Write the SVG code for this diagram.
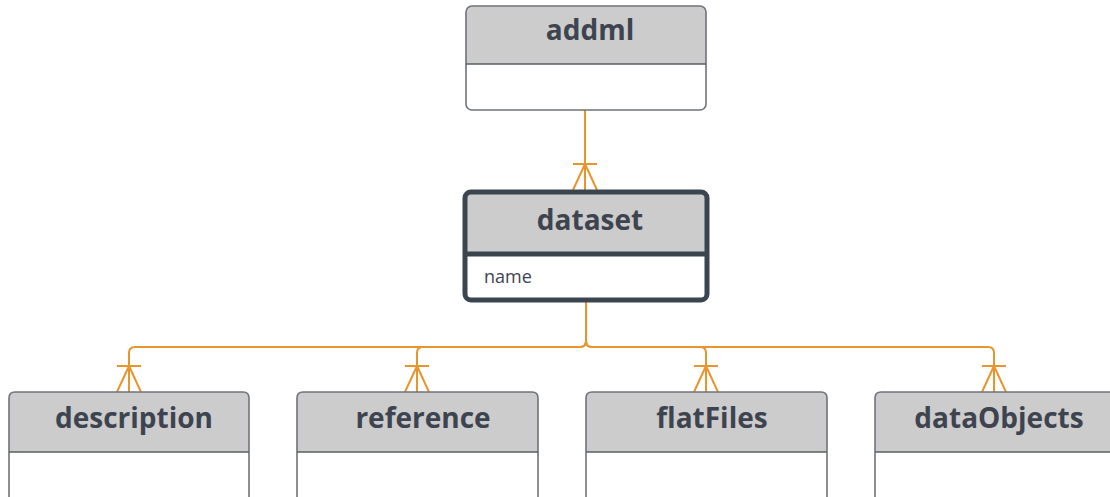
<svg xmlns="http://www.w3.org/2000/svg" width="1110" height="497" viewBox="0 0 1110 497">
<style>
.hdr{fill:#cccccc;}
.body{fill:#ffffff;}
.frame{fill:none;stroke:#6f737a;stroke-width:1.6;}
.div{stroke:#5a5f66;stroke-width:1.6;}
.title{font-family:"Open Sans","Noto Sans",sans-serif;font-weight:bold;font-size:28px;fill:#3d4450;text-anchor:middle;}
.attr{font-family:"Open Sans","Noto Sans",sans-serif;font-size:18px;fill:#3d4450;}
.conn{fill:none;stroke:#e8952e;stroke-width:2;}
</style>
<rect width="1110" height="497" fill="#ffffff"/>
<g id="connectors">
<path class="conn" d="M585,110 V190"/>
<path class="conn" d="M573,164 H597 M585,164 L573,190 M585,164 L597,190"/>
<path class="conn" d="M586,302 V341 Q586,347 580,347 H135 Q129,347 129,353 V392"/>
<path class="conn" d="M586,302 V341 Q586,347 580,347 H423 Q417,347 417,353 V392"/>
<path class="conn" d="M586,302 V341 Q586,347 592,347 H700 Q706,347 706,353 V392"/>
<path class="conn" d="M586,302 V341 Q586,347 592,347 H988 Q994,347 994,353 V392"/>
<path class="conn" d="M117,366 H141 M129,366 L117,392 M129,366 L141,392"/>
<path class="conn" d="M405,366 H429 M417,366 L405,392 M417,366 L429,392"/>
<path class="conn" d="M694,366 H718 M706,366 L694,392 M706,366 L718,392"/>
<path class="conn" d="M982,366 H1006 M994,366 L982,392 M994,366 L1006,392"/>
</g>
<g id="addml">
<path class="hdr" d="M472,6 H700 Q706,6 706,12 V64 H466 V12 Q466,6 472,6 Z"/>
<path class="body" d="M466,64 H706 V104 Q706,110 700,110 H472 Q466,110 466,104 Z"/>
<rect class="frame" x="466" y="6" width="240" height="104" rx="6"/>
<line class="div" x1="466" y1="64" x2="706" y2="64"/>
<text class="title" x="590" y="40">addml</text>
</g>
<g id="dataset">
<rect x="465" y="192" width="242" height="108" rx="6" fill="#ffffff"/>
<rect x="465" y="192" width="242" height="61" class="hdr"/>
<rect x="465" y="192" width="242" height="108" rx="6" fill="none" stroke="#3a4550" stroke-width="5"/>
<line x1="465" y1="254" x2="707" y2="254" stroke="#3a4550" stroke-width="5"/>
<text class="title" x="590" y="230">dataset</text>
<text class="attr" x="484" y="283">name</text>
</g>
<g id="description">
<path class="hdr" d="M15,392 H243 Q249,392 249,398 V452 H9 V398 Q9,392 15,392 Z"/>
<path class="frame" d="M9,500 V398 Q9,392 15,392 H243 Q249,392 249,398 V500"/>
<line class="div" x1="9" y1="452" x2="249" y2="452"/>
<text class="title" x="134" y="428">description</text>
</g>
<g id="reference">
<path class="hdr" d="M303,392 H532 Q538,392 538,398 V452 H297 V398 Q297,392 303,392 Z"/>
<path class="frame" d="M297,500 V398 Q297,392 303,392 H532 Q538,392 538,398 V500"/>
<line class="div" x1="297" y1="452" x2="538" y2="452"/>
<text class="title" x="423" y="428">reference</text>
</g>
<g id="flatFiles">
<path class="hdr" d="M592,392 H821 Q827,392 827,398 V452 H586 V398 Q586,392 592,392 Z"/>
<path class="frame" d="M586,500 V398 Q586,392 592,392 H821 Q827,392 827,398 V500"/>
<line class="div" x1="586" y1="452" x2="827" y2="452"/>
<text class="title" x="712" y="428">flatFiles</text>
</g>
<g id="dataObjects">
<path class="hdr" d="M881,392 H1109 Q1115,392 1115,398 V452 H875 V398 Q875,392 881,392 Z"/>
<path class="frame" d="M875,500 V398 Q875,392 881,392 H1109 Q1115,392 1115,398 V500"/>
<line class="div" x1="875" y1="452" x2="1115" y2="452"/>
<text class="title" x="999" y="428">dataObjects</text>
</g>
</svg>
